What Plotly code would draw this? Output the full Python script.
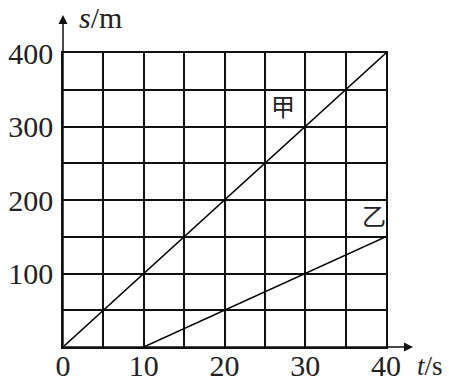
import plotly.graph_objects as go

# data
jia_t = [0, 40]
jia_s = [0, 400]
yi_t = [10, 40]
yi_s = [0, 150]
x_tickvals = [0, 5, 10, 15, 20, 25, 30, 35, 40]
x_ticktext = ["0", "", "10", "", "20", "", "30", "", "40"]
y_tickvals = [0, 50, 100, 150, 200, 250, 300, 350, 400]
y_ticktext = ["", "", "100", "", "200", "", "300", "", "400"]

serif = "Liberation Serif, Times New Roman, serif"
cjk = "Noto Sans CJK SC"
FS = 30

fig = go.Figure()
fig.add_trace(go.Scatter(x=jia_t, y=jia_s, mode="lines",
                         line=dict(color="black", width=1.5), showlegend=False))
fig.add_trace(go.Scatter(x=yi_t, y=yi_s, mode="lines",
                         line=dict(color="black", width=1.5), showlegend=False))

axis_common = dict(showgrid=True, gridcolor="#111", gridwidth=1.5,
                   zeroline=False, showline=True, mirror=True,
                   linecolor="#111", linewidth=1.5, ticks="",
                   automargin=False,
                   tickfont=dict(family=serif, size=FS, color="#222"))

fig.update_layout(
    width=449, height=382,
    margin=dict(l=63, r=63, t=53, b=35),
    paper_bgcolor="white", plot_bgcolor="white",
    font=dict(family=serif, size=FS, color="#222"),
    xaxis=dict(range=[0, 40], tickvals=x_tickvals, ticktext=x_ticktext,
               ticklabelstandoff=-9, **axis_common),
    yaxis=dict(range=[0, 400], tickvals=y_tickvals, ticktext=y_ticktext,
               ticklabelstandoff=2, **axis_common),
)

# axes with arrows
fig.add_annotation(x=0, xref="x", y=(347 - 15) / 294, yref="paper",
                   ax=0, ay=332, axref="pixel", ayref="pixel",
                   showarrow=True, arrowhead=2, arrowsize=1.2, arrowwidth=1.5,
                   arrowcolor="#111", text="")
fig.add_annotation(x=(413 - 63) / 323, xref="paper", y=0, yref="y",
                   ax=-350, ay=0, axref="pixel", ayref="pixel",
                   showarrow=True, arrowhead=2, arrowsize=1.2, arrowwidth=1.5,
                   arrowcolor="#111", text="")

# axis names
fig.add_annotation(x=(78 - 63) / 323, xref="paper", y=(347 - 18) / 294, yref="paper",
                   text="<i>s</i>/m", showarrow=False, xanchor="left", yanchor="middle",
                   borderpad=0, font=dict(family=serif, size=FS, color="#222"))
fig.add_annotation(x=(444 - 63) / 323, xref="paper", y=-19 / 294, yref="paper",
                   text="<i>t</i>/s", showarrow=False, xanchor="right", yanchor="middle",
                   borderpad=0, font=dict(family=serif, size=27, color="#222"))

# line labels
fig.add_annotation(x=27.2, y=328, text="甲", showarrow=False,
                   font=dict(family=cjk, size=24, color="#222"))
fig.add_annotation(x=38.5, y=180, text="乙", showarrow=False,
                   font=dict(family=cjk, size=24, color="#222"))

fig.write_html("out.html")
